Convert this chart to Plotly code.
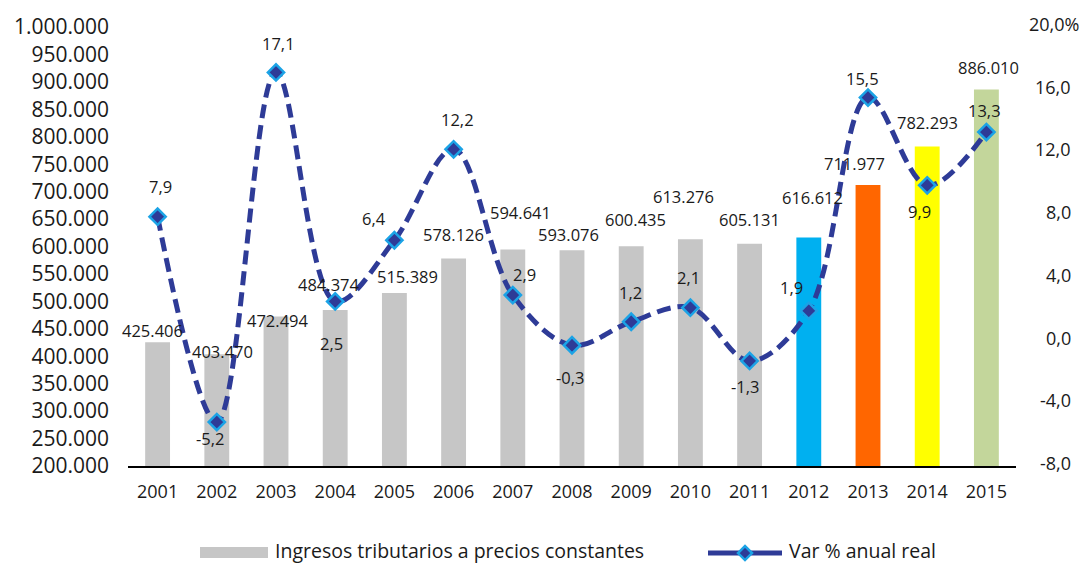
import plotly.graph_objects as go

# --- data -------------------------------------------------------------------
years = ["2001", "2002", "2003", "2004", "2005", "2006", "2007", "2008",
         "2009", "2010", "2011", "2012", "2013", "2014", "2015"]

# Tax revenue at constant prices
revenue = [425406, 403470, 472494, 484374, 515389, 578126, 594641, 593076,
           600435, 613276, 605131, 616612, 711977, 782293, 886010]

# Real annual % change
growth = [7.9, -5.2, 17.1, 2.5, 6.4, 12.2, 2.9, -0.3,
          1.2, 2.1, -1.3, 1.9, 15.5, 9.9, 13.3]

revenue_ticks = list(range(200000, 1000001, 50000))
growth_ticks = [-8, -4, 0, 4, 8, 12, 16, 20]
growth_tick_text = ["-8,0", "-4,0", "0,0", "4,0", "8,0", "12,0", "16,0", "20,0%"]

series_names = ["Ingresos tributarios a precios constantes", "Var % anual real"]

# --- styling ----------------------------------------------------------------
GRAY = "#C6C6C6"
bar_colors = [GRAY] * 11 + ["#00B0F0", "#FF6600", "#FFFF00", "#C3D69B"]
LINE = "#2E3B97"
EDGE = "#1BA3E6"
FONT = "Open Sans"
TXT = "#1a1a1a"

W, H = 1083, 564
ML, MR, MT, MB = 128, 67, 22, 98
PW, PH = W - ML - MR, H - MT - MB
TEXT_LIFT = 3  # raise text boxes so the glyphs sit centred on their anchor


def fmt_thousands(v):
    return f"{v:,}".replace(",", ".")


def fmt_pct(v):
    return f"{v:.1f}".replace(".", ",")


def paper_x(px):
    return (px - ML) / PW


def paper_y(py):
    return (H - MB - py) / PH


# label nudges in pixels (right, down) relative to each bar top / marker
bar_label_shift = [(-5, -9), (6, 0), (2, 7), (-6, -22), (13, -13),
                   (0, -21), (8, -34), (-4, -13), (4, -24), (-7, -40),
                   (0, -21), (4, -37), (-14, -19), (0, -21), (2, -19)]
pct_label_shift = [(3, -27), (-7, 19), (2, -26), (-4, 45), (-20, -19),
                   (4, -27), (12, -18), (-2, 35), (-1, -26), (-2, -27),
                   (-5, 29), (-17, -20), (-6, -16), (-8, 29), (-2, -19)]

fig = go.Figure()

fig.add_bar(
    x=years, y=revenue, name=series_names[0],
    marker=dict(color=bar_colors, line=dict(width=0)),
    width=0.42, showlegend=False,
)

fig.add_scatter(
    x=years, y=growth, yaxis="y2", name=series_names[1],
    mode="lines+markers",
    line=dict(color=LINE, width=5, dash="14px,7px", shape="spline", smoothing=1),
    marker=dict(symbol="diamond", size=12.5, color=LINE,
                line=dict(color=EDGE, width=2.5)),
    showlegend=False,
)

annotations = []
# category positions are given by index so they map onto the category axis
for i, (v, (dx, dy)) in enumerate(zip(revenue, bar_label_shift)):
    annotations.append(dict(
        x=i, y=v, xref="x", yref="y", text=fmt_thousands(v),
        showarrow=False, xanchor="center", yanchor="middle",
        xshift=dx, yshift=-dy + TEXT_LIFT,
        font=dict(family=FONT, size=16.5, color=TXT),
    ))
for i, (v, (dx, dy)) in enumerate(zip(growth, pct_label_shift)):
    annotations.append(dict(
        x=i, y=v, xref="x", yref="y2", text=fmt_pct(v),
        showarrow=False, xanchor="center", yanchor="middle",
        xshift=dx, yshift=-dy + TEXT_LIFT,
        font=dict(family=FONT, size=16.5, color=TXT),
    ))

# right-hand axis labels, right aligned
for v, t in zip(growth_ticks, growth_tick_text):
    annotations.append(dict(
        x=1, y=v, xref="paper", yref="y2", text=t, showarrow=False,
        xanchor="right", yanchor="middle",
        xshift=65 if t.endswith("%") else 57, yshift=TEXT_LIFT,
        font=dict(family=FONT, size=18, color=TXT),
    ))

# legend texts
legend_y = paper_y(551)
annotations.append(dict(
    x=paper_x(273), y=legend_y, xref="paper", yref="paper",
    text=series_names[0], showarrow=False, xanchor="left", yanchor="middle",
    font=dict(family=FONT, size=19.5, color=TXT),
))
annotations.append(dict(
    x=paper_x(787), y=legend_y, xref="paper", yref="paper",
    text=series_names[1], showarrow=False, xanchor="left", yanchor="middle",
    font=dict(family=FONT, size=19.5, color=TXT),
))

shapes = [
    # bar swatch
    dict(type="rect", xref="paper", yref="paper",
         x0=paper_x(200), x1=paper_x(268), y0=paper_y(559), y1=paper_y(548),
         fillcolor=GRAY, line=dict(width=0)),
    # line swatch
    dict(type="line", xref="paper", yref="paper",
         x0=paper_x(708), x1=paper_x(782), y0=paper_y(554), y1=paper_y(554),
         line=dict(color=LINE, width=5)),
    # diamond on the line swatch
    dict(type="path", xref="paper", yref="paper",
         xsizemode="pixel", ysizemode="pixel",
         xanchor=paper_x(745), yanchor=paper_y(554),
         path="M-7,0 L0,7 L7,0 L0,-7 Z",
         fillcolor=LINE, line=dict(color=EDGE, width=2.5)),
]

fig.update_layout(
    width=W, height=H,
    margin=dict(l=ML, r=MR, t=MT, b=MB, pad=0),
    paper_bgcolor="white", plot_bgcolor="white",
    font=dict(family=FONT, color=TXT),
    xaxis=dict(
        type="category", range=[-0.5, len(years) - 0.5],
        showgrid=False, zeroline=False,
        showline=True, linecolor="#000000", linewidth=1.5,
        ticks="", tickfont=dict(family=FONT, size=18, color=TXT),
        ticklabelstandoff=9,
    ),
    yaxis=dict(
        range=[200000, 1000000], tickvals=revenue_ticks,
        ticktext=[fmt_thousands(v) for v in revenue_ticks],
        showgrid=False, zeroline=False, showline=False, ticks="",
        tickfont=dict(family=FONT, size=21, color=TXT),
        ticklabelstandoff=18,
    ),
    yaxis2=dict(
        range=[-8, 20], overlaying="y", side="right",
        showgrid=False, zeroline=False, showline=False,
        showticklabels=False, ticks="",
    ),
    annotations=annotations,
    shapes=shapes,
    showlegend=False,
)

fig.write_html("out.html")
